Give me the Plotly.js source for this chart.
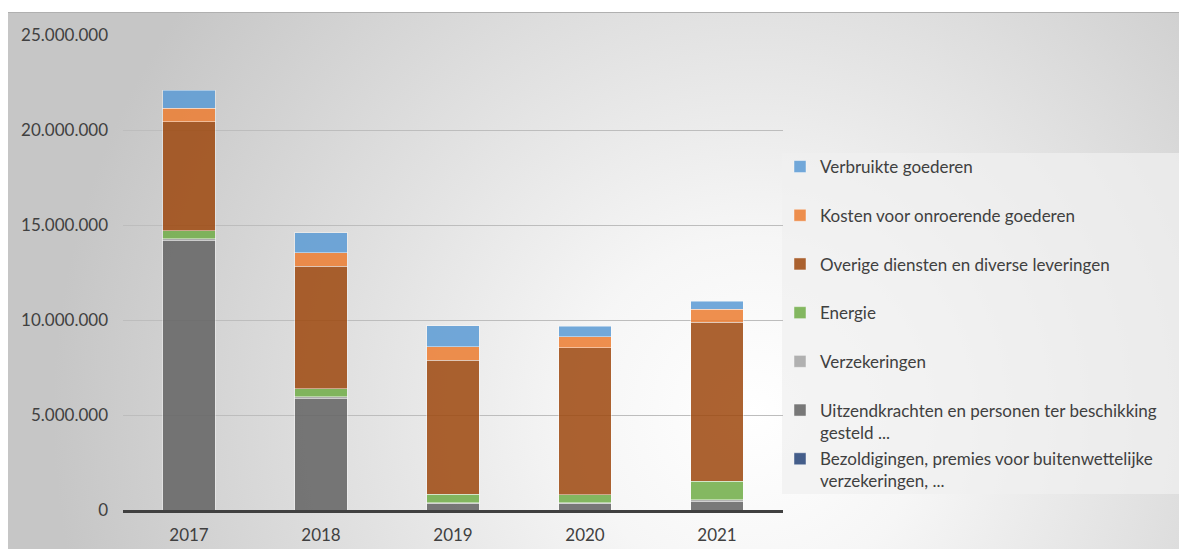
<!DOCTYPE html>
<html>
<head>
<meta charset="utf-8">
<script src="https://cdn.plot.ly/plotly-3.0.1.min.js"></script>
<style>
  html, body { margin: 0; padding: 0; background: #ffffff; }
  #frame {
    position: absolute; left: 8px; top: 12px; width: 1171px; height: 537px;
    border-top: 1px solid #b0b0b0;
    background: radial-gradient(circle 700px at 745px 400px, #ffffff 0%, #f6f6f6 25%, #c6c6c6 100%);
  }
  #chart { position: absolute; left: 0; top: 0; width: 1179px; height: 549px; }
</style>
</head>
<body>
<div id="frame"></div>
<div id="chart"></div>
<script>
// Categories
const years = ['2017', '2018', '2019', '2020', '2021'];

// Series
const bezoldigingen   = [0, 0, 0, 0, 0];
const uitzendkrachten = [14200000, 5890000, 320000, 320000, 460000];
const verzekeringen   = [80000, 60000, 50000, 70000, 70000];
const energie         = [420000, 420000, 450000, 420000, 980000];
const overige         = [5740000, 6470000, 7050000, 7720000, 8380000];
const kosten          = [710000, 710000, 730000, 590000, 670000];
const verbruikte      = [940000, 1050000, 1110000, 560000, 440000];

// Series names
const names = [
  'Bezoldigingen, premies voor buitenwettelijke<br>verzekeringen, ...',
  'Uitzendkrachten en personen ter beschikking<br>gesteld ...',
  'Verzekeringen<br> ',
  'Energie<br> ',
  'Overige diensten en diverse leveringen<br> ',
  'Kosten voor onroerende goederen<br> ',
  'Verbruikte goederen<br> '
];
const colors = ['#264478', '#636363', '#A5A5A5', '#70AD47', '#9E480E', '#ED7D31', '#5B9BD5'];
const series = [bezoldigingen, uitzendkrachten, verzekeringen, energie, overige, kosten, verbruikte];

const traces = series.map((vals, i) => ({
  type: 'bar',
  x: years,
  y: vals,
  name: names[i],
  legendgroup: 'g' + i,
  legendrank: 100 - i,
  opacity: 0.85,
  marker: { color: colors[i], line: { color: 'rgba(255,255,255,0.45)', width: 1 } },
  hoverinfo: 'x+y+name'
}));

const plotL = 123, plotR = 783, plotT = 35, plotB = 510, W = 1179, H = 549;
const px2x = p => (p - plotL) / (plotR - plotL);
const px2y = p => (plotB - p) / (plotB - plotT);

const layout = {
  width: W, height: H,
  margin: { l: plotL, r: W - plotR, t: plotT, b: H - plotB, pad: 0 },
  paper_bgcolor: 'rgba(0,0,0,0)',
  plot_bgcolor: 'rgba(0,0,0,0)',
  barmode: 'stack',
  bargap: 0.6,
  separators: ',.',
  font: { family: 'Lato, "Open Sans", sans-serif', size: 17, color: '#404040' },
  xaxis: {
    type: 'category',
    showline: true, linecolor: '#404040', linewidth: 3,
    showgrid: false, zeroline: false, ticks: '',
    tickfont: { size: 17, color: '#404040' },
    ticklabelstandoff: 8
  },
  yaxis: {
    range: [0, 25000000],
    dtick: 5000000, tick0: 0,
    tickformat: ',.0f',
    showgrid: true, gridcolor: '#bdbdbd', gridwidth: 1,
    zeroline: false, showline: false, ticks: '',
    tickfont: { size: 17, color: '#404040' },
    ticklabelstandoff: 14
  },
  showlegend: true,
  legend: {
    x: px2x(780), xanchor: 'left',
    y: px2y(149), yanchor: 'top',
    bgcolor: 'rgba(0,0,0,0)',
    font: { size: 17, color: '#404040' },
    traceorder: 'grouped',
    tracegroupgap: 1.5,
    valign: 'top'
  },
  shapes: [{
    type: 'rect', xref: 'paper', yref: 'paper', layer: 'below',
    x0: px2x(782), x1: px2x(1179), y0: px2y(494), y1: px2y(153),
    fillcolor: 'rgba(240,240,240,0.72)', line: { width: 0 }
  }]
};

Plotly.newPlot('chart', traces, layout, { displayModeBar: false, staticPlot: true });
</script>
</body>
</html>
